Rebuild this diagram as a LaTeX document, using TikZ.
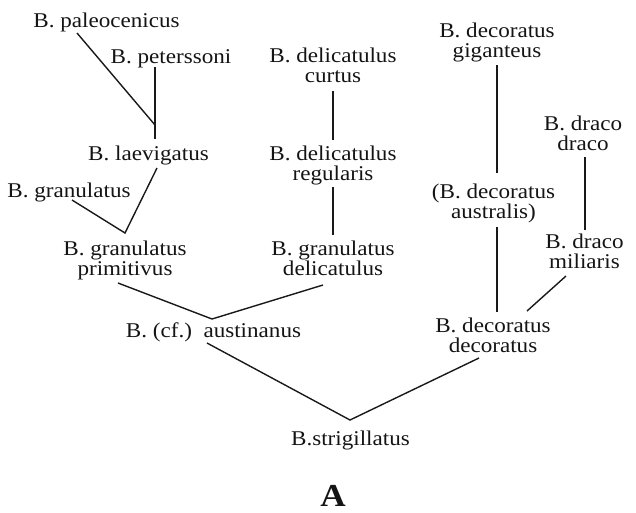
\documentclass[tikz,border=0pt]{standalone}
\usepackage{fontspec}
\setmainfont[FakeStretch=1.1]{Liberation Serif}
\begin{document}
\begin{tikzpicture}[x=1pt,y=-1pt,
  lbl/.style={inner sep=0pt,outer sep=0pt,font={\fontsize{21}{20}\selectfont},text=black!92},
  one/.style={lbl,anchor=base},
  two/.style={lbl,anchor=north,align=center},
  edge/.style={line width=1.4pt,draw=black!90}]
\useasboundingbox (0,0) rectangle (636,512);
% labels
\node[one] (pal) at (106.5,27) {B. paleocenicus};
\node[one] (pet) at (171,63) {B. peterssoni};
\node[one] (lae) at (148.5,160) {B. laevigatus};
\node[one] (gra) at (69,197) {B. granulatus};
\node[two] (gpr) at (125,240.7) {B. granulatus\\primitivus};
\node[two] (cur) at (333,47.7) {B. delicatulus\\curtus};
\node[two] (reg) at (333,145.7) {B. delicatulus\\regularis};
\node[two] (gde) at (333,240.7) {B. granulatus\\delicatulus};
\node[one] (aus) at (213.5,337) {B. (cf.)\ \ austinanus};
\node[one] (str) at (350.5,445) {B.strigillatus};
\node[two] (gig) at (497,22.7) {B. decoratus\\giganteus};
\node[two] (aul) at (493.5,183.7) {(B. decoratus\\australis)};
\node[two] (dd) at (583,115.7) {B. draco\\draco};
\node[two] (dm) at (584.5,233.7) {B. draco\\miliaris};
\node[two] (ddc) at (493,317.7) {B. decoratus\\decoratus};
\node[inner sep=0pt,anchor=base,font={\fontsize{32}{32}\selectfont\bfseries},text=black!92] (A) at (333,506) {A};
% junctions
\coordinate (j1) at (155,125);
\coordinate (j2) at (125,233);
\coordinate (j3) at (212,319);
\coordinate (j4) at (350,420);
% connectors
\draw[edge] ([shift={(-29.5,6)}]pal.base) -- (j1);
\draw[edge] ([shift={(-16,4)}]pet.base) -- ([shift={(6.5,-21)}]lae.base);
\draw[edge] ([shift={(8.5,8)}]lae.base) -- (j2) -- ([shift={(3,3)}]gra.base);
\draw[edge] ([shift={(-7,42.3)}]gpr.north) -- (j3) -- ([shift={(-10,44.3)}]gde.north);
\draw[edge] ([shift={(0,43.3)}]cur.north) -- ([shift={(0,-5.7)}]reg.north);
\draw[edge] ([shift={(0,41.3)}]reg.north) -- ([shift={(0,-5.7)}]gde.north);
\draw[edge] ([shift={(-6.5,6)}]aus.base) -- (j4) -- ([shift={(-14,40.3)}]ddc.north);
\draw[edge] ([shift={(0,42.3)}]gig.north) -- ([shift={(3.5,-10.7)}]aul.north);
\draw[edge] ([shift={(3.5,43.3)}]aul.north) -- ([shift={(4,-5.7)}]ddc.north);
\draw[edge] ([shift={(2,41.3)}]dd.north) -- ([shift={(0.5,-3.7)}]dm.north);
\draw[edge] ([shift={(-18.5,42.3)}]dm.north) -- ([shift={(34,-6.7)}]ddc.north);
\end{tikzpicture}
\end{document}
